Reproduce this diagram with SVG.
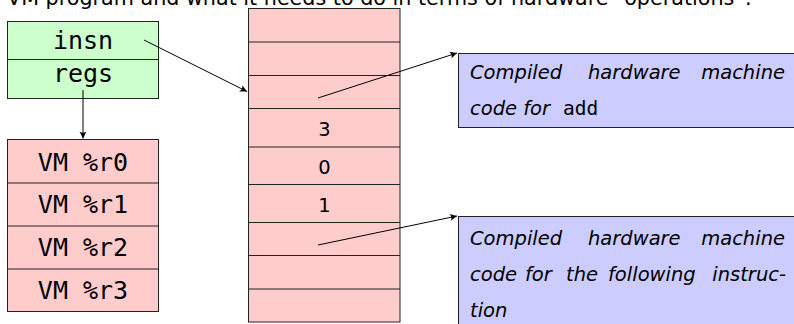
<svg xmlns="http://www.w3.org/2000/svg" width="794" height="324" viewBox="0 0 794 324">
<style>
.box{stroke:#222;stroke-width:1}
.g{fill:#ccffcc}.r{fill:#ffcccc}.b{fill:#ccccff}
.div{stroke:#222;stroke-width:1}
.mono{font-family:"DejaVu Sans Mono",monospace;font-size:25px;fill:#000;text-anchor:middle}
.sans{font-family:"DejaVu Sans",sans-serif;font-size:19.5px;fill:#000}
.it{font-family:"DejaVu Sans",sans-serif;font-style:italic;font-size:19.5px;fill:#000}
.tt{font-family:"DejaVu Sans Mono",monospace;font-style:normal;font-size:19.5px}
.conn{stroke:#000;stroke-width:1;fill:none;marker-end:url(#arr)}
</style>
<defs>
<marker id="arr" markerUnits="userSpaceOnUse" markerWidth="12" markerHeight="10" viewBox="-8 -5 10 10" refX="0" refY="0" orient="auto">
<path d="M0,0 L-7,-3.5 Q-4.5,0 -7,3.5 Z" fill="#000"/>
</marker>
</defs>
<text class="sans" x="7" y="5" style="font-size:20.7px">VM program and what it needs to do in terms of hardware “operations”.</text>
<g id="vmstate">
<rect class="box g" x="7.5" y="21.5" width="151" height="77"/>
<line class="div" x1="7.5" y1="59.5" x2="158.5" y2="59.5"/>
<text class="mono" x="83" y="49">insn</text>
<text class="mono" x="83" y="82">regs</text>
</g>
<g id="registers">
<rect class="box r" x="7.5" y="139.5" width="151" height="172"/>
<line class="div" x1="7.5" y1="183" x2="158.5" y2="183"/>
<line class="div" x1="7.5" y1="226" x2="158.5" y2="226"/>
<line class="div" x1="7.5" y1="269" x2="158.5" y2="269"/>
<text class="mono" x="83" y="171">VM %r0</text>
<text class="mono" x="83" y="213">VM %r1</text>
<text class="mono" x="83" y="256">VM %r2</text>
<text class="mono" x="83" y="299">VM %r3</text>
</g>
<g id="program">
<rect class="box r" x="248.5" y="8.5" width="151.5" height="313.5"/>
<line class="div" x1="248.5" y1="42" x2="400" y2="42"/>
<line class="div" x1="248.5" y1="75.5" x2="400" y2="75.5"/>
<line class="div" x1="248.5" y1="108.5" x2="400" y2="108.5"/>
<line class="div" x1="248.5" y1="147" x2="400" y2="147"/>
<line class="div" x1="248.5" y1="184.5" x2="400" y2="184.5"/>
<line class="div" x1="248.5" y1="222.5" x2="400" y2="222.5"/>
<line class="div" x1="248.5" y1="255.5" x2="400" y2="255.5"/>
<line class="div" x1="248.5" y1="289" x2="400" y2="289"/>
<text class="sans" x="324.5" y="136" text-anchor="middle">3</text>
<text class="sans" x="324.5" y="174" text-anchor="middle">0</text>
<text class="sans" x="324.5" y="212" text-anchor="middle">1</text>
</g>
<g id="code-add">
<rect class="box b" x="458.5" y="53.5" width="345" height="74"/>
<text class="it" x="470" y="79">Compiled</text>
<text class="it" x="588" y="79">hardware</text>
<text class="it" x="785" y="79" text-anchor="end">machine</text>
<text class="it" x="470" y="115">code for <tspan class="tt" x="563">add</tspan></text>
</g>
<g id="code-next">
<rect class="box b" x="458.5" y="216.5" width="345" height="120"/>
<text class="it" x="470" y="245">Compiled</text>
<text class="it" x="588" y="245">hardware</text>
<text class="it" x="785" y="245" text-anchor="end">machine</text>
<text class="it" x="470" y="281">code</text>
<text class="it" x="525" y="281">for</text>
<text class="it" x="566" y="281">the</text>
<text class="it" x="608" y="281">following</text>
<text class="it" x="786" y="281" text-anchor="end">instruc-</text>
<text class="it" x="470" y="317">tion</text>
</g>
<g id="connectors">
<line class="conn" x1="144" y1="40" x2="247" y2="91.5"/>
<line class="conn" x1="83" y1="90" x2="83" y2="138.5"/>
<line class="conn" x1="318" y1="98" x2="457" y2="53"/>
<line class="conn" x1="318" y1="245" x2="457" y2="216"/>
</g>
</svg>
